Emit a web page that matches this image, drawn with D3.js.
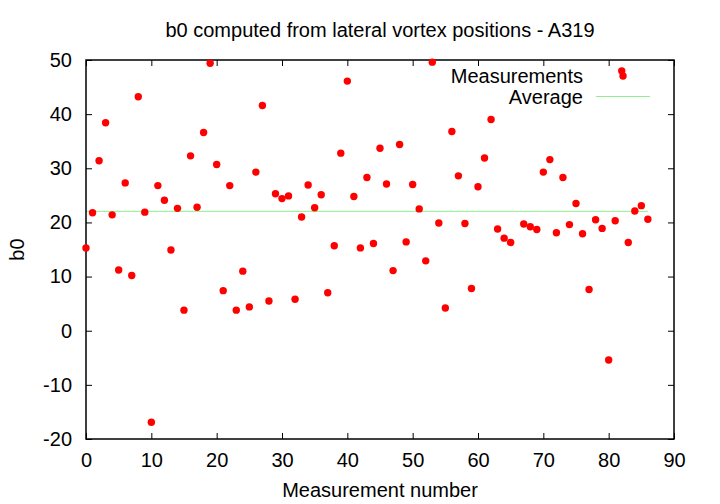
<!DOCTYPE html>
<html>
<head>
<meta charset="utf-8">
<script src="https://cdn.jsdelivr.net/npm/d3@7"></script>
<style>
  body { margin: 0; background: #fff; }
  svg { display: block; }
  text { font-family: "Liberation Sans", Arial, sans-serif; fill: #000; }
</style>
</head>
<body>
<svg id="chart" width="720" height="504"></svg>
<script>
// ---- data ----
const measurementIndex = [0,1,2,3,4,5,6,7,8,9,10,11,12,13,14,15,16,17,18,19,20,21,22,23,24,25,26,27,28,29,30,31,32,33,34,35,36,37,38,39,40,41,42,43,44,45,46,47,48,49,50,51,52,53,54,55,56,57,58,59,60,61,62,63,64,65,67,68,69,70,71,72,73,74,75,76,77,78,79,80,81,82,83,84,85,86];
const b0Values = [15.3,21.8,31.4,38.4,21.4,11.2,27.3,10.2,43.2,21.9,-16.9,26.8,24.1,14.9,22.6,3.8,32.3,22.8,36.6,49.4,30.7,7.4,26.8,3.8,11.0,4.4,29.3,41.6,5.5,25.3,24.4,24.9,5.8,21.0,26.9,22.7,25.1,7.0,15.7,32.8,46.1,24.8,15.3,28.3,16.1,33.7,27.1,11.1,34.4,16.4,27.0,22.5,12.9,49.6,19.9,4.2,36.8,28.6,19.8,7.8,26.6,31.9,39.0,18.8,17.1,16.3,19.7,19.2,18.7,29.3,31.6,18.1,28.3,19.6,23.5,17.9,7.6,20.5,18.9,-5.4,20.3,48.0,16.3,22.1,23.1,20.6];
const averageValue = 22.05;
const averageRange = [0, 86];
const xTicks = [0,10,20,30,40,50,60,70,80,90];
const yTicks = [-20,-10,0,10,20,30,40,50];
const titleText = "b0 computed from lateral vortex positions - A319";
const xLabel = "Measurement number";
const yLabel = "b0";
const legendLabels = ["Measurements", "Average"];

// ---- layout ----
const W = 720, H = 504;
const margin = {left: 86, right: 46, top: 60, bottom: 65};
const svg = d3.select("#chart");
const x = d3.scaleLinear().domain([0, 90]).range([margin.left, W - margin.right]);
const y = d3.scaleLinear().domain([-20, 50]).range([H - margin.bottom, margin.top]);
const fs = 20;
const plain = d => String(d);

// Title
svg.append("text").attr("x", (x(0)+x(90))/2).attr("y", 37)
  .attr("text-anchor","middle").attr("font-size", fs).text(titleText);

// Average line
svg.append("line")
  .attr("x1", x(averageRange[0])).attr("x2", x(averageRange[1]))
  .attr("y1", y(averageValue)).attr("y2", y(averageValue))
  .attr("stroke", "#90ee90").attr("stroke-width", 1);

// Axes (ticks inside, mirrored)
const tl = 6;
const gBottom = svg.append("g").attr("transform", `translate(0,${y(-20)})`)
  .call(d3.axisBottom(x).tickValues(xTicks).tickSizeInner(-tl).tickSizeOuter(0).tickPadding(14).tickFormat(plain));
const gTop = svg.append("g").attr("transform", `translate(0,${y(50)})`)
  .call(d3.axisTop(x).tickValues(xTicks).tickSizeInner(-tl).tickSizeOuter(0).tickFormat(""));
const gLeft = svg.append("g").attr("transform", `translate(${x(0)},0)`)
  .call(d3.axisLeft(y).tickValues(yTicks).tickSizeInner(-tl).tickSizeOuter(0).tickPadding(14).tickFormat(plain));
const gRight = svg.append("g").attr("transform", `translate(${x(90)},0)`)
  .call(d3.axisRight(y).tickValues(yTicks).tickSizeInner(-tl).tickSizeOuter(0).tickFormat(""));
[gBottom, gTop, gLeft, gRight].forEach(g => {
  g.select(".domain").remove();
  g.selectAll("line").attr("stroke", "#000");
  g.selectAll("text").attr("font-size", fs).attr("font-family", "Liberation Sans, Arial, sans-serif").attr("fill", "#000");
});
// Frame
svg.append("rect").attr("x", x(0)).attr("y", y(50))
  .attr("width", x(90)-x(0)).attr("height", y(-20)-y(50))
  .attr("fill", "none").attr("stroke", "#000").attr("stroke-width", 1.5);

// Points
svg.append("g").selectAll("circle").data(measurementIndex.map((d,i)=>[d,b0Values[i]]))
  .join("circle")
  .attr("cx", d => x(d[0])).attr("cy", d => y(d[1]))
  .attr("r", 3.7).attr("fill", "#ff0000");

// Axis labels
svg.append("text").attr("x", (x(0)+x(90))/2).attr("y", 497)
  .attr("text-anchor","middle").attr("font-size", fs).text(xLabel);
svg.append("text").attr("transform", `translate(24,${(y(-20)+y(50))/2}) rotate(-90)`)
  .attr("text-anchor","middle").attr("font-size", fs).text(yLabel);

// Legend
const lx = 583, sx1 = 596, sx2 = 650;
svg.append("text").attr("x", lx).attr("y", 83).attr("text-anchor","end").attr("font-size", fs).text(legendLabels[0]);
svg.append("circle").attr("cx", (sx1+sx2)/2).attr("cy", 76).attr("r", 3.7).attr("fill", "#ff0000");
svg.append("text").attr("x", lx).attr("y", 104).attr("text-anchor","end").attr("font-size", fs).text(legendLabels[1]);
svg.append("line").attr("x1", sx1).attr("x2", sx2).attr("y1", 96.5).attr("y2", 96.5)
  .attr("stroke", "#90ee90").attr("stroke-width", 1);
</script>
</body>
</html>
